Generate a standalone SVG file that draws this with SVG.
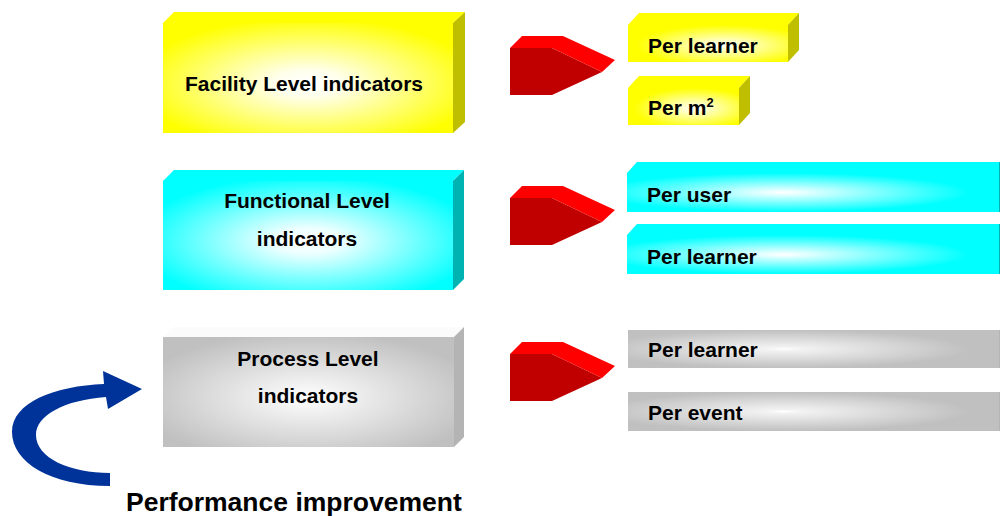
<svg xmlns="http://www.w3.org/2000/svg" width="1000" height="516" viewBox="0 0 1000 516">
<defs>
<radialGradient id="gY" cx="0.5" cy="0.55" r="0.6"><stop offset="0" stop-color="#FFFFFF"/><stop offset="0.2" stop-color="#FFFFEC"/><stop offset="1" stop-color="#FFFF00"/></radialGradient>
<radialGradient id="gC" cx="0.5" cy="0.55" r="0.6"><stop offset="0" stop-color="#FFFFFF"/><stop offset="0.2" stop-color="#ECFFFF"/><stop offset="1" stop-color="#00FFFF"/></radialGradient>
<radialGradient id="gG" cx="0.5" cy="0.55" r="0.6"><stop offset="0" stop-color="#FFFFFF"/><stop offset="0.2" stop-color="#F2F2F2"/><stop offset="1" stop-color="#C0C0C0"/></radialGradient>
<radialGradient id="gYs" cx="0.6" cy="0.55" r="0.55"><stop offset="0" stop-color="#FFFFFF"/><stop offset="1" stop-color="#FFFF00"/></radialGradient>
<radialGradient id="gCs" cx="0.42" cy="0.5" r="0.5"><stop offset="0" stop-color="#FFFFFF"/><stop offset="0.1" stop-color="#E8FFFF"/><stop offset="1" stop-color="#00FFFF"/></radialGradient>
<radialGradient id="gGs" cx="0.42" cy="0.5" r="0.5"><stop offset="0" stop-color="#FFFFFF"/><stop offset="0.1" stop-color="#F2F2F2"/><stop offset="1" stop-color="#C0C0C0"/></radialGradient>
</defs>
<style>
text{font-family:"Liberation Sans",Arial,sans-serif;font-weight:bold;fill:#000}
.big{font-size:21px;text-anchor:middle}
.sm{font-size:21px}
.yt{fill:#FFFF00}.ys{fill:#BFBF00}
.ct{fill:#00FFFF}.cs{fill:#00B3B3}
.gt{fill:#FBFBFB}.gs{fill:#B4B4B4}
.af{fill:#C00000}.at{fill:#FF0000}
</style>
<rect width="1000" height="516" fill="#FFFFFF"/>

<g id="facility">
<polygon class="yt" points="163,23 174,12 465,12 453,23"/>
<polygon class="ys" points="453,23 465,12 465,122 453,133"/>
<rect x="163" y="23" width="290" height="110" fill="url(#gY)"/>
<text class="big" x="304" y="91">Facility Level indicators</text>
</g>
<g id="facility-learner">
<polygon class="yt" points="628,25 639,13 799,13 788,25"/>
<polygon class="ys" points="788,25 799,13 799,50 788,62"/>
<rect x="628" y="25" width="160" height="37" fill="url(#gYs)"/>
<text class="sm" x="648" y="53">Per learner</text>
</g>
<g id="facility-m2">
<polygon class="yt" points="628,88 639,76 750,76 739,88"/>
<polygon class="ys" points="739,88 750,76 750,113 739,125"/>
<rect x="628" y="88" width="111" height="37" fill="url(#gYs)"/>
<text class="sm" x="648" y="115">Per m<tspan font-size="13" dy="-8">2</tspan></text>
</g>

<g id="functional">
<polygon class="ct" points="163,181 174,170 464,170 453,181"/>
<polygon class="cs" points="453,181 464,170 464,279 453,290"/>
<rect x="163" y="181" width="290" height="109" fill="url(#gC)"/>
<text class="big" x="307" y="208">Functional Level</text>
<text class="big" x="307" y="246">indicators</text>
</g>
<g id="functional-user">
<polygon class="ct" points="627,173 637,162 1010,162 999,173"/>
<rect x="999" y="162" width="2" height="50" class="cs"/>
<rect x="627" y="173" width="372" height="39" fill="url(#gCs)"/>
<text class="sm" x="647" y="202">Per user</text>
</g>
<g id="functional-learner">
<polygon class="ct" points="627,235 637,224 1010,224 999,235"/>
<rect x="999" y="224" width="2" height="50" class="cs"/>
<rect x="627" y="235" width="372" height="39" fill="url(#gCs)"/>
<text class="sm" x="647" y="264">Per learner</text>
</g>

<g id="process">
<polygon class="gt" points="163,337 174,327 464,327 454,337"/>
<polygon class="gs" points="454,337 464,327 464,437 454,447"/>
<rect x="163" y="337" width="291" height="110" fill="url(#gG)"/>
<text class="big" x="308" y="366">Process Level</text>
<text class="big" x="308" y="403">indicators</text>
</g>
<g id="process-learner">
<rect x="999" y="330" width="2" height="38" class="gs"/>
<rect x="628" y="330" width="371" height="38" fill="url(#gGs)"/>
<text class="sm" x="648" y="357">Per learner</text>
</g>
<g id="process-event">
<rect x="999" y="392" width="2" height="39" class="gs"/>
<rect x="628" y="392" width="371" height="39" fill="url(#gGs)"/>
<text class="sm" x="648" y="420">Per event</text>
</g>

<g id="connectors">
<g id="arrow-facility">
<path class="af" d="M510,48 L552,48 L602,72 L552,95 L510,95 Z"/>
<path class="at" d="M510,48 L522,36 L563,36 L615,60 L602,72 L552,48 Z"/>
</g>
<g id="arrow-functional" transform="translate(0,150)">
<path class="af" d="M510,48 L552,48 L602,72 L552,95 L510,95 Z"/>
<path class="at" d="M510,48 L522,36 L563,36 L615,60 L602,72 L552,48 Z"/>
</g>
<g id="arrow-process" transform="translate(0,306)">
<path class="af" d="M510,48 L552,48 L602,72 L552,95 L510,95 Z"/>
<path class="at" d="M510,48 L522,36 L563,36 L615,60 L602,72 L552,48 Z"/>
</g>
<path id="improvement-arrow" fill="#003399" d="M110,486 C50,486 12,462 12,432 C12,402 55,386 104,384 L103,371 L142,389 L108,409 L106,397 C65,400 36,415 36,435 C36,458 70,473 110,473 Z"/>
</g>

<g id="performance-label">
<text x="126" y="511" font-size="26.5">Performance improvement</text>
</g>
</svg>
